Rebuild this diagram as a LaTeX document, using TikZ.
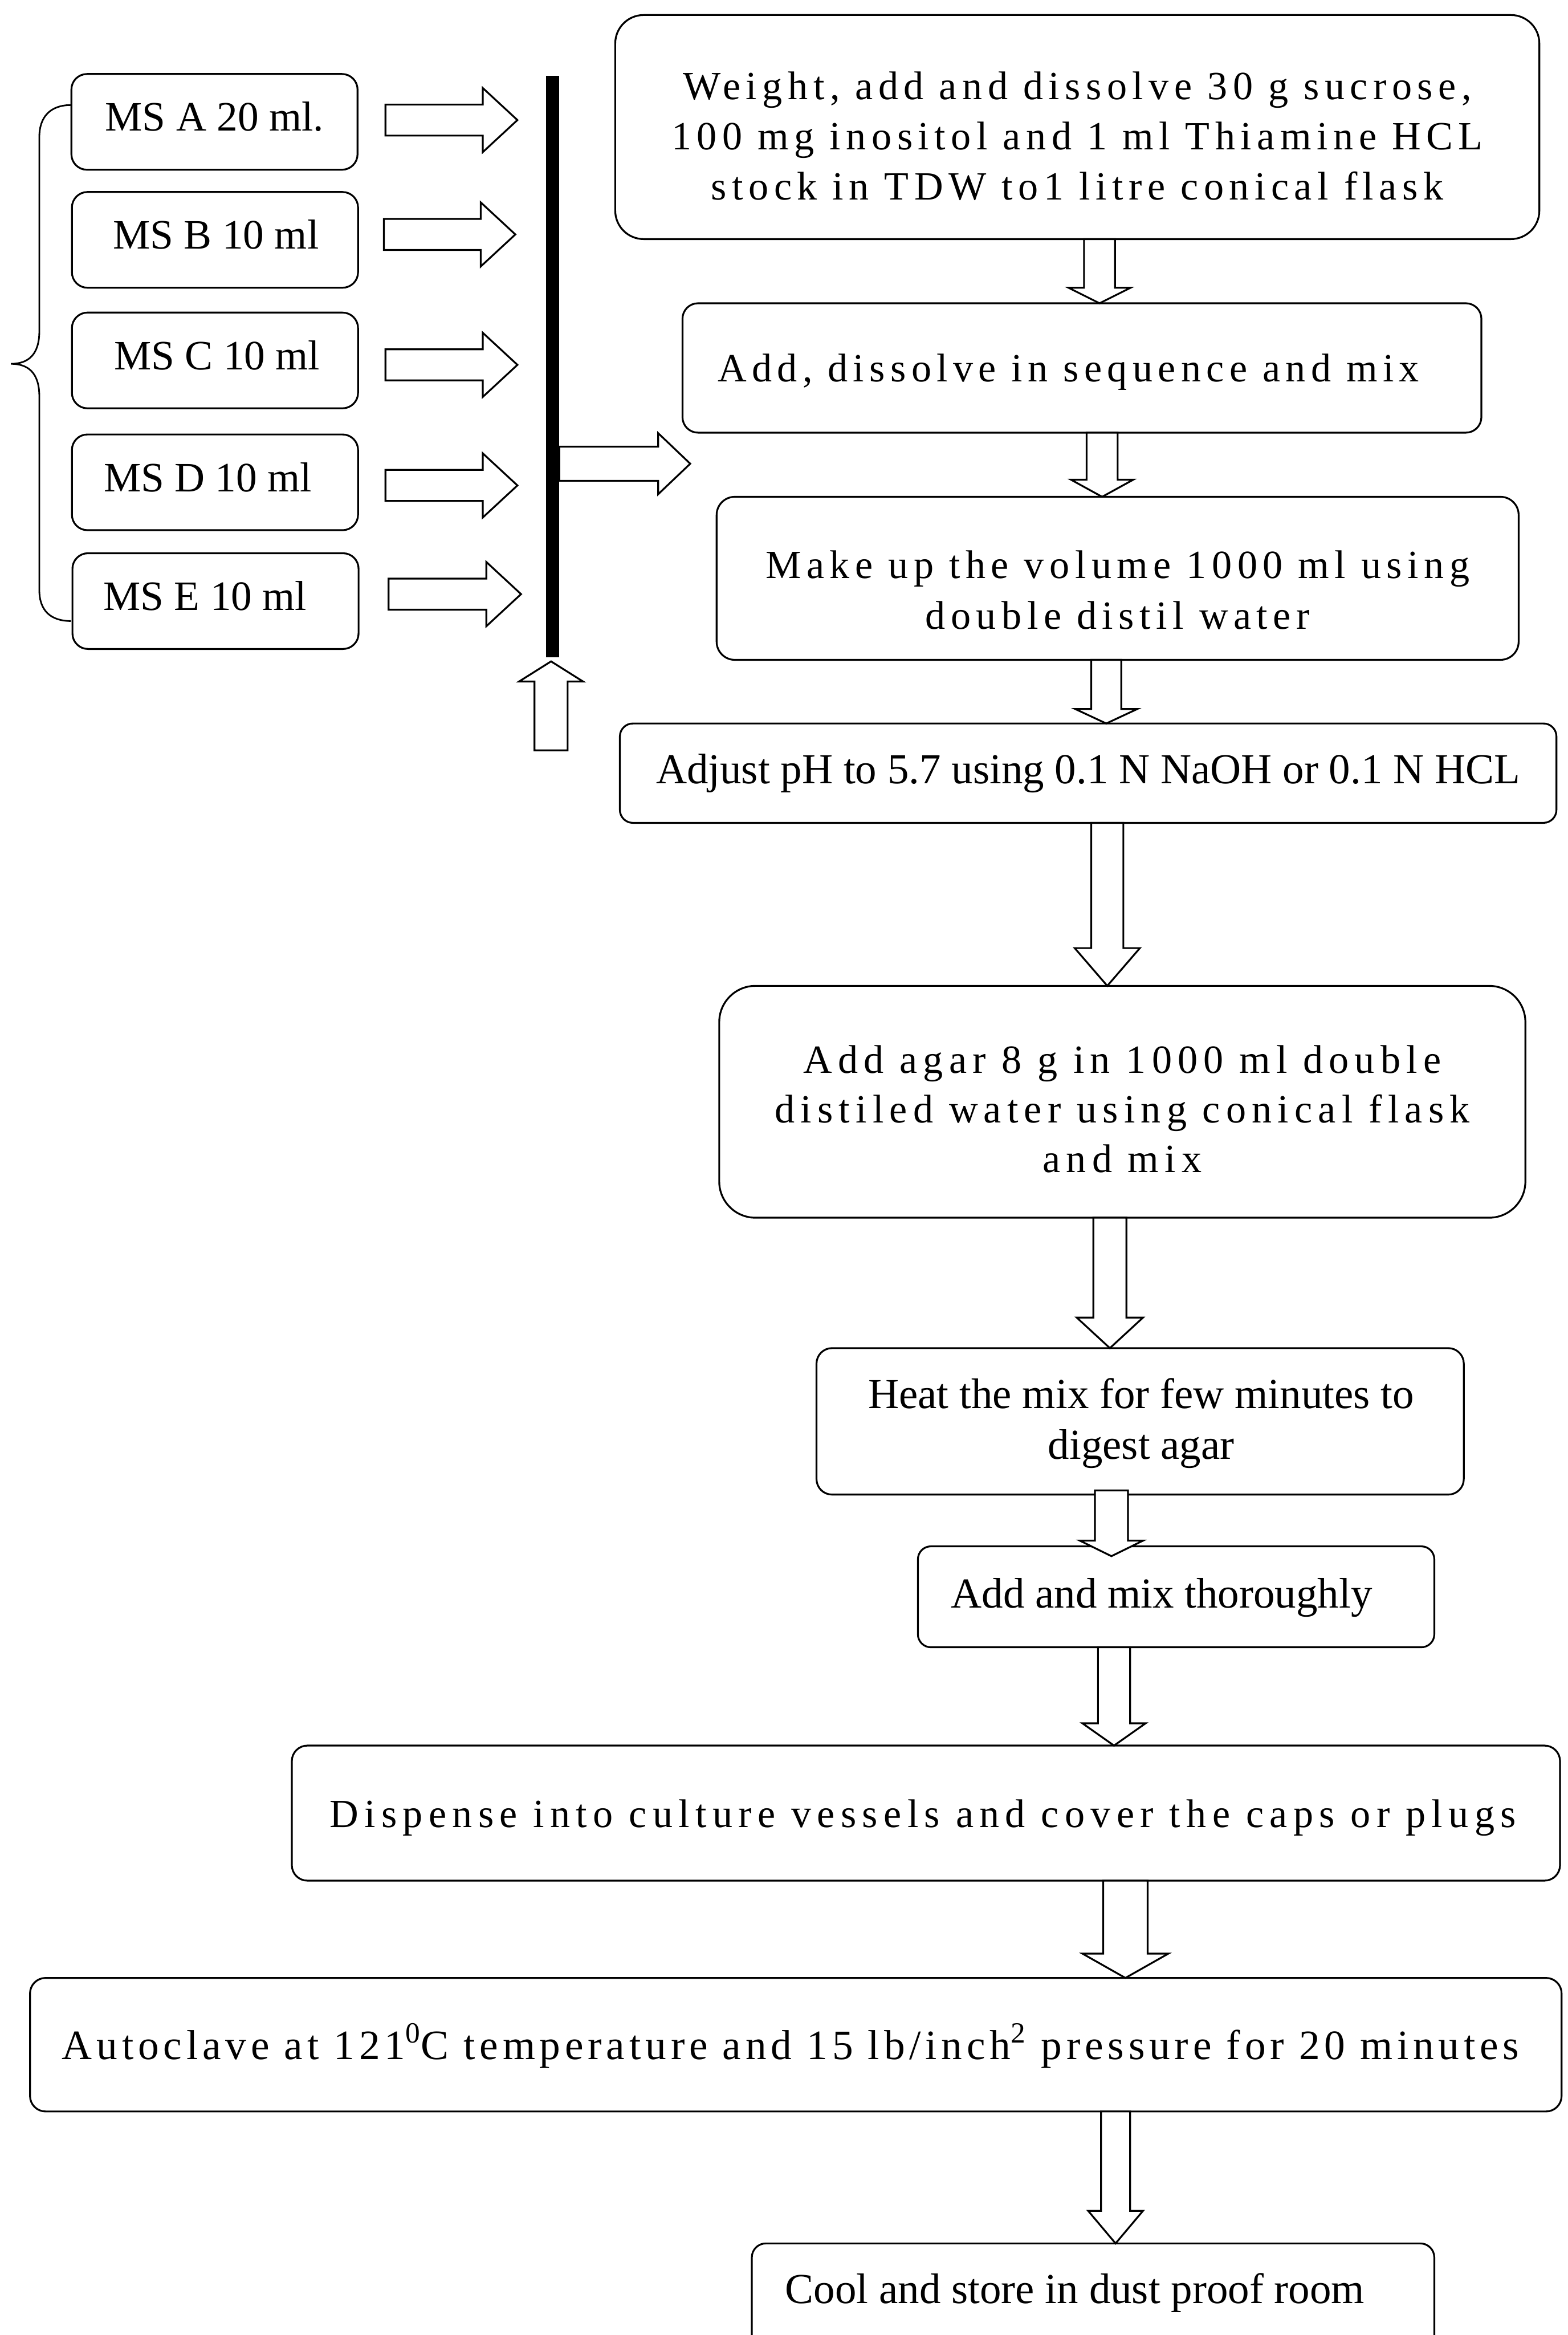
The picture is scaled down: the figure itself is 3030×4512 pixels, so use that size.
\documentclass[tikz,border=0pt]{standalone}
\usepackage{fontspec}
\setmainfont{Liberation Serif}
\usetikzlibrary{calc}
\newcommand{\plainsz}[1]{\fontsize{#1}{28}\selectfont}
\newcommand{\spaced}[2]{\fontsize{22}{#2}\selectfont\addfontfeatures{LetterSpace=#1}}
% block arrow: start, tip, shaft half width, head half width, head length
\newcommand{\blockarrow}[5]{%
  \coordinate (ba-s) at (#1);
  \coordinate (ba-t) at (#2);
  \coordinate (ba-h) at ($(ba-t)!#5!(ba-s)$);
  \draw[blockarr] ($(ba-s)!#3!90:(ba-t)$) -- ($(ba-h)!#3!90:(ba-t)$) -- ($(ba-h)!#4!90:(ba-t)$) -- (ba-t) -- ($(ba-h)!#4!-90:(ba-t)$) -- ($(ba-h)!#3!-90:(ba-t)$) -- ($(ba-s)!#3!-90:(ba-t)$) -- cycle;
}
\begin{document}
\begin{tikzpicture}[x=0.1mm,y=-0.1mm,
  box/.style={draw,line width=1pt,inner sep=0pt,outer sep=0pt},
  txt/.style={align=center,inner sep=0pt,outer sep=0pt},
  msbox/.style={box,rounded corners=3mm,minimum width=55.3mm,minimum height=18.5mm},
  mstxt/.style={txt,font={\plainsz{23}}},
  blockarr/.style={draw,line width=1pt,fill=white,line join=miter},
  brace/.style={draw,line width=0.9pt},
  barstyle/.style={fill=black,draw=none,inner sep=0pt,outer sep=0pt,minimum width=2.6mm,minimum height=112.3mm}]
\useasboundingbox (0,0) rectangle (3030,4512);
\fill[white] (0,0) rectangle (3030,4512);
\clip (0,0) rectangle (3030,4512);

% stock solutions
\node[msbox] (msA) at (414.5,235.5) {};
\node[msbox] (msB) at (415.5,463.5) {};
\node[msbox] (msC) at (415.5,696.5) {};
\node[msbox] (msD) at (415.5,932) {};
\node[msbox] (msE) at (416.5,1161.5) {};
\node[mstxt] (msAt) at ($(msA.center)+(0,-10)$) {MS A 20 ml.};
\node[mstxt] (msBt) at ($(msB.center)+(2,-10)$) {MS B 10 ml};
\node[mstxt] (msCt) at ($(msC.center)+(4,-10)$) {MS C 10 ml};
\node[mstxt] (msDt) at ($(msD.center)+(-14,-10)$) {MS D 10 ml};
\node[mstxt] (msEt) at ($(msE.center)+(-20,-10)$) {MS E 10 ml};

% brace
\draw[brace] (137,203) .. controls (98,203) and (76,225) .. (76,265) -- (76,640)
  .. controls (76,685) and (55,703) .. (21,703)
  .. controls (55,703) and (76,721) .. (76,766) -- (76,1140)
  .. controls (76,1180) and (98,1200) .. (137,1200);

% collecting bar
\node[barstyle] (bar) at (1068,708.5) {};

% flow boxes
\node[box,rounded corners=5.5mm,minimum width=178.6mm,minimum height=43.3mm] (b1) at (2082,245.5) {};
\node[txt,font={\spaced{13.5}{27.6}}] (b1t) at ($(b1.center)+(0,17)$)
  {Weight, add and dissolve 30 g sucrose,\\100 mg inositol and 1 ml Thiamine HCL\\stock in TDW to1 litre conical flask};

\node[box,rounded corners=3mm,minimum width=154.4mm,minimum height=25mm] (b2) at (2091,711) {};
\node[txt,font={\spaced{13.3}{27.6}}] (b2t) at ($(b2.center)+(-26,8)$)
  {Add, dissolve in sequence and mix};

\node[box,rounded corners=3.5mm,minimum width=155mm,minimum height=31.5mm] (b3) at (2160,1117.5) {};
\node[txt,font={\spaced{13.5}{27.9}}] (b3t) at ($(b3.center)+(0,23)$)
  {Make up the volume 1000 ml using\\double distil water};

\node[box,rounded corners=2.5mm,minimum width=181mm,minimum height=19.2mm] (b4) at (2103,1494) {};
\node[txt,font={\plainsz{23.5}}] (b4t) at (b4.center)
  {Adjust pH to 5.7 using 0.1 N NaOH or 0.1 N HCL};

\node[box,rounded corners=7mm,minimum width=155.8mm,minimum height=44.8mm] (b5) at (2169,2129) {};
\node[txt,font={\spaced{14.5}{27.2}}] (b5t) at ($(b5.center)+(0,14)$)
  {Add agar 8 g in 1000 ml double\\distiled water using conical flask\\and mix};

\node[box,rounded corners=3mm,minimum width=125.1mm,minimum height=28.3mm] (b6) at (2203.5,2746.5) {};
\node[txt,font={\plainsz{23.5}}] (b6t) at ($(b6.center)+(2,4)$)
  {Heat the mix for few minutes to\\digest agar};

\node[box,rounded corners=2.5mm,minimum width=99.8mm,minimum height=19.5mm] (b7) at (2273,3085.5) {};
\node[txt,font={\plainsz{23.5}}] (b7t) at ($(b7.center)+(-28,2)$)
  {Add and mix thoroughly};

\node[box,rounded corners=3mm,minimum width=245.1mm,minimum height=26.1mm] (b8) at (1789.5,3503.5) {};
\node[txt,font={\spaced{14.7}{27.6}}] (b8t) at ($(b8.center)+(-6,9)$)
  {Dispense into culture vessels and cover the caps or plugs};

\node[box,rounded corners=3mm,minimum width=296mm,minimum height=25.8mm] (b9) at (1538,3951) {};
\node[txt,font={\fontsize{23}{28}\selectfont\addfontfeatures{LetterSpace=10.6}}] (b9t) at ($(b9.center)+(-10,2)$)
  {Autoclave at 121\textsuperscript{0}C temperature and 15 lb/inch\textsuperscript{2} pressure for 20 minutes};

\node[box,rounded corners=2.7mm,minimum width=131.9mm,minimum height=23.5mm] (b10) at (2112.5,4452.5) {};
\node[txt,font={\plainsz{23.5}}] (b10t) at ($(b10.center)+(-35,-22)$)
  {Cool and store in dust proof room};

% arrow anchor coordinates
\coordinate (sA) at (745,232);  \coordinate (tA) at (1000,232);
\coordinate (sB) at (742,453);  \coordinate (tB) at (996,453);
\coordinate (sC) at (745,705);  \coordinate (tC) at (1000,705);
\coordinate (sD) at (745,938);  \coordinate (tD) at (1000,938);
\coordinate (sE) at (751,1148); \coordinate (tE) at (1007,1148);
\coordinate (rb) at (0,896);    \coordinate (rt) at (1334,896);
\coordinate (ub) at (1065,1450);
\coordinate (c12) at (2125,0);
\coordinate (c23) at (2130,0);
\coordinate (c34) at (2138,0);
\coordinate (c45) at (2140,0);
\coordinate (c56) at (2145,0);
\coordinate (c67) at (2148,0);
\coordinate (c78) at (2153,0);
\coordinate (c89) at (2175,0);
\coordinate (c910) at (2156,0);

% stock arrows
\blockarrow{sA}{tA}{3mm}{6.2mm}{6.7mm}
\blockarrow{sB}{tB}{3mm}{6.2mm}{6.7mm}
\blockarrow{sC}{tC}{3mm}{6.2mm}{6.7mm}
\blockarrow{sD}{tD}{3mm}{6.2mm}{6.7mm}
\blockarrow{sE}{tE}{3mm}{6.2mm}{6.7mm}
\blockarrow{bar.east |- rb}{rt}{3.3mm}{5.9mm}{6.2mm}
\blockarrow{ub}{$(bar.south)+(-3,8)$}{3.2mm}{6.2mm}{3.9mm}

% flow arrows
\blockarrow{b1.south -| c12}{b2.north -| c12}{3mm}{6mm}{3mm}
\blockarrow{b2.south -| c23}{b3.north -| c23}{3mm}{6mm}{3.3mm}
\blockarrow{b3.south -| c34}{b4.north -| c34}{2.9mm}{6mm}{2.8mm}
\blockarrow{b4.south -| c45}{b5.north -| c45}{3.1mm}{6.3mm}{7.3mm}
\blockarrow{b5.south -| c56}{b6.north -| c56}{3.2mm}{6.4mm}{5.9mm}
\blockarrow{$(b6.south -| c67)+(0,-8)$}{$(b7.north -| c67)+(0,19)$}{3.2mm}{6.1mm}{3mm}
\blockarrow{b7.south -| c78}{b8.north -| c78}{3.1mm}{6.1mm}{4.3mm}
\blockarrow{b8.south -| c89}{b9.north -| c89}{4.3mm}{8.3mm}{4.7mm}
\blockarrow{b9.south -| c910}{b10.north -| c910}{2.8mm}{5.3mm}{6.3mm}
\end{tikzpicture}
\end{document}
